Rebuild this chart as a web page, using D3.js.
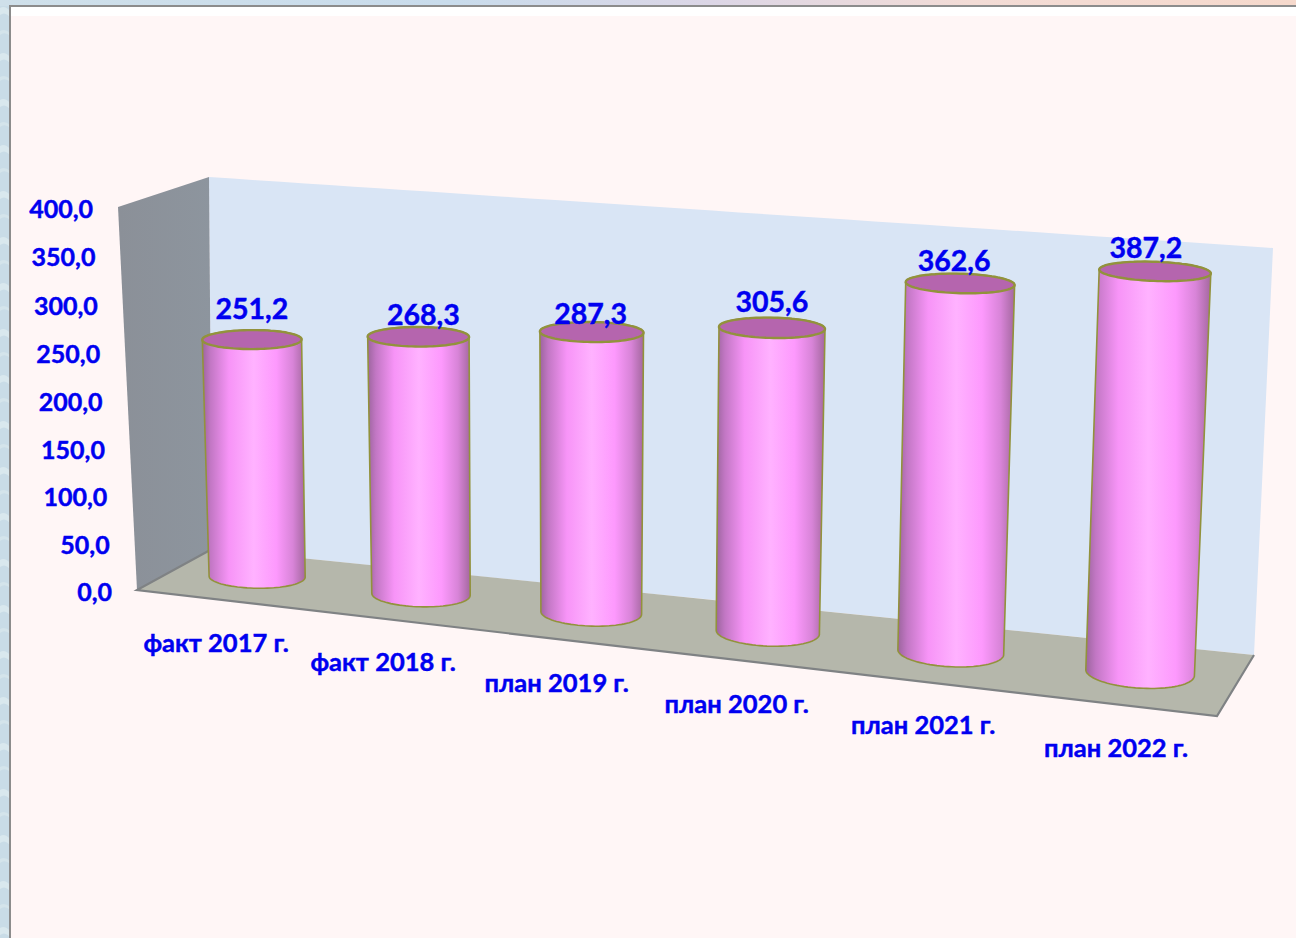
<!DOCTYPE html>
<html><head><meta charset="utf-8">
<script src="https://cdn.jsdelivr.net/npm/d3@7"></script>
<style>html,body{margin:0;padding:0;background:#fff}svg{display:block}text{font-family:Lato,"Open Sans",sans-serif;font-weight:700;fill:#0000f0;stroke:#0000f0;stroke-width:.45px}</style>
</head><body><div id="c"></div>
<script>
const categories=["факт 2017 г.","факт 2018 г.","план 2019 г.","план 2020 г.","план 2021 г.","план 2022 г."];
const values=[251.2,268.3,287.3,305.6,362.6,387.2];
const valueLabels=["251,2","268,3","287,3","305,6","362,6","387,2"];
const ticks=[0,50,100,150,200,250,300,350,400];
const labelNudgeX=[0,5,-1,0,-6,-9];
const labelNudgeY=[-31,-22,-18,-26,-22.5,-23];

const W=1296,H=938;
// corners: front-left, front-right, back-right, back-left
const floorQ=[[137,590],[1217,716],[1254,655],[212,549]];
const topQ=[[118,207],[1234,284],[1273,248],[209,177]];
const lerp=(a,b,t)=>a+(b-a)*t;
const warp=u=>u-0.108*u*(1-u);
const plane=q=>(u,d)=>{const w=warp(u);return [0,1].map(k=>lerp(lerp(q[0][k],q[1][k],w),lerp(q[3][k],q[2][k],w),d));};
const F=plane(floorQ),T=plane(topQ);
const yVal=d3.scaleLinear().domain([0,400]).range([0,1]);
const hp=h=>h/(1+0.02*(1-h));
function proj(u,d,v){const h=hp(yVal(v)),a=F(u,d),b=T(u,d);return [lerp(a[0],b[0],h),lerp(a[1],b[1],h)];}
const band=d3.scaleBand().domain(categories).range([0,1]);
const ru=0.0462,rd=0.25,dc=0.54;
const angles=d3.range(0,360,4).map(a=>a*Math.PI/180);
const circle=(uc,v)=>angles.map(a=>proj(uc+ru*Math.cos(a),dc+rd*Math.sin(a),v));

const svg=d3.select("#c").append("svg").attr("width",W).attr("height",H);
const defs=svg.append("defs");
const bgTop=defs.append("linearGradient").attr("id","bgTop");
[[0,"#cfe0ea"],[.35,"#c9dcec"],[.55,"#dcd6e6"],[.75,"#f3dcd6"],[1,"#f6d9cc"]].forEach(s=>bgTop.append("stop").attr("offset",s[0]).attr("stop-color",s[1]));
const pat=defs.append("pattern").attr("id","wave").attr("patternUnits","userSpaceOnUse").attr("width",10).attr("height",46);
pat.append("rect").attr("width",10).attr("height",46).attr("fill","#c9dce7");
pat.append("path").attr("d","M0 8Q5 5 10 11L10 17Q5 11 0 15Z").attr("fill","#d9e8ee");
pat.append("path").attr("d","M0 31Q5 28 10 33L10 36Q5 31 0 35Z").attr("fill","#d4e4eb");
const cyl=defs.append("linearGradient").attr("id","cyl");
[[0,"#9c659e"],[.08,"#c277c4"],[.26,"#f794f7"],[.5,"#ffb2ff"],[.72,"#fd99fd"],[.88,"#d884d8"],[1,"#a4689f"]].forEach(s=>cyl.append("stop").attr("offset",s[0]).attr("stop-color",s[1]));
const wallG=defs.append("linearGradient").attr("id","wallG");
[[0,"#8b9098"],[1,"#8d959e"]].forEach(s=>wallG.append("stop").attr("offset",s[0]).attr("stop-color",s[1]));

svg.append("rect").attr("width",W).attr("height",H).attr("fill","url(#wave)");
svg.append("rect").attr("width",W).attr("height",6).attr("fill","url(#bgTop)");
svg.append("rect").attr("x",9).attr("y",5).attr("width",W-9).attr("height",H-5).attr("fill","#8c8c8c");
svg.append("rect").attr("x",11).attr("y",7).attr("width",W-11).attr("height",H-7).attr("fill","#ffffff");
svg.append("rect").attr("x",11).attr("y",16).attr("width",W-11).attr("height",H-16).attr("fill","#fff6f6");

const poly=pts=>"M"+pts.map(p=>p.map(n=>+n.toFixed(1)).join(",")).join("L")+"Z";
const axisMax=400,g=svg.append("g");
const wallPts=(a,b,n=40)=>d3.range(n+1).map(i=>proj(lerp(a,b,i/n),1,0)).concat(d3.range(n,-1,-1).map(i=>proj(lerp(a,b,i/n),1,axisMax)));
g.append("path").attr("d",poly(wallPts(0,1))).attr("fill","#d9e5f5");
g.append("path").attr("d",poly([proj(0,0,0),proj(0,1,0),proj(0,1,axisMax),proj(0,0,axisMax)])).attr("fill","url(#wallG)");
g.append("path").attr("d",poly([proj(0,0,0),proj(1,0,0),proj(1,1,0),proj(0,1,0)])).attr("fill","#b5b7ab");
g.append("path").attr("d","M"+[proj(0,1,0),proj(0,0,0),proj(1,0,0),proj(1,1,0)].map(p=>p.join(",")).join("L")).attr("fill","none").attr("stroke","#7f8284").attr("stroke-width",2.2);

const cx=c=>band(c)+band.bandwidth()/2;
const bars=g.selectAll("g.bar").data(categories.map((c,i)=>({c,i,v:values[i]}))).join("g").attr("class","bar");
bars.append("path").attr("d",d=>poly(d3.polygonHull(circle(cx(d.c),0).concat(circle(cx(d.c),d.v)))))
  .attr("fill","url(#cyl)").attr("stroke","#92923c").attr("stroke-width",1.6);
bars.append("path").attr("d",d=>poly(circle(cx(d.c),d.v))).attr("fill","#b565ae").attr("stroke","#92923c").attr("stroke-width",2.4);

svg.selectAll("text.tick").data(ticks).join("text").attr("class","tick")
  .attr("x",t=>proj(0,0,t)[0]-25).attr("y",t=>proj(0,0,t)[1]+2).attr("dy",".35em")
  .attr("text-anchor","end").attr("font-size",25).text(t=>d3.format(".1f")(t).replace(".",","));
svg.selectAll("text.cat").data(categories).join("text").attr("class","cat")
  .attr("x",c=>proj(cx(c),0,0)[0]-2).attr("y",c=>proj(cx(c),0,0)[1]+43.5).attr("dy",".35em")
  .attr("text-anchor","middle").attr("font-size",25.5).text(c=>c);
svg.selectAll("text.val").data(categories).join("text").attr("class","val")
  .attr("x",(c,i)=>proj(cx(c),dc,values[i])[0]+labelNudgeX[i]).attr("y",(c,i)=>proj(cx(c),dc,values[i])[1]+labelNudgeY[i]).attr("dy",".35em")
  .attr("text-anchor","middle").attr("font-size",28.5).text((c,i)=>valueLabels[i]);
</script></body></html>
